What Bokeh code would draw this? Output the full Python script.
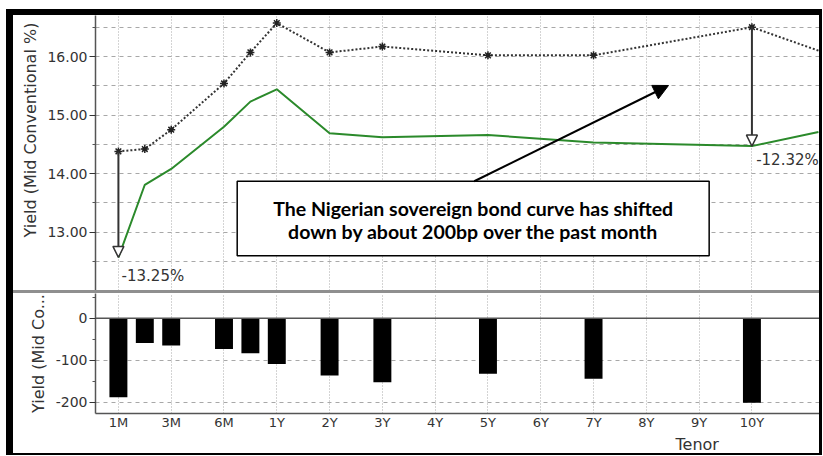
import math
from bokeh.plotting import figure
from bokeh.models import (FixedTicker, Label, Arrow, NormalHead, BoxAnnotation,
                          Span, Div, PrintfTickFormatter, Range1d, Title)
from bokeh.layouts import column, row
from bokeh.embed import file_html
from bokeh.resources import INLINE

# ---- data ----
tick_labels = ["1M", "3M", "6M", "1Y", "2Y", "3Y", "4Y", "5Y", "6Y", "7Y", "8Y", "9Y", "10Y"]
tick_pos = [0, 1, 2, 3, 4, 5, 6, 7, 8, 9, 10, 11, 12]

curve_tenors = ["1M", "2M", "3M", "6M", "9M", "1Y", "2Y", "3Y", "5Y", "7Y", "10Y", "edge"]
curve_pos = [0, 0.5, 1, 2, 2.5, 3, 4, 5, 7, 9, 12, 13.26]
yield_month_ago = [14.38, 14.42, 14.75, 15.54, 16.07, 16.57, 16.07, 16.17, 16.02, 16.02, 16.50, 16.10]
yield_now = [12.57, 13.81, 14.08, 14.80, 15.23, 15.44, 14.69, 14.62, 14.66, 14.53, 14.47, 14.71]

bar_tenors = ["1M", "2M", "3M", "6M", "9M", "1Y", "2Y", "3Y", "5Y", "7Y", "10Y"]
bar_pos = [0, 0.5, 1, 2, 2.5, 3, 4, 5, 7, 9, 12]
change_bp = [-188, -59, -65, -73, -83, -109, -136, -152, -132, -144, -201]

top_ticks = [13, 14, 15, 16]
top_minor = [12.5, 13.5, 14.5, 15.5, 16.5]
top_grid = [12.5, 13, 13.5, 14, 14.5, 15, 15.5, 16, 16.5]
bot_ticks = [0, -100, -200]
bot_minor = [50, -50, -150]
bot_grid = [-100, -200]

FONT = "DejaVu Sans"
TXT = "#333333"
AX = "#555555"
GRID = "#a8a8a8"
XR = (-0.434, 13.28)
W = 806


def set_standoff(t, v):
    try:
        t.standoff = v
    except Exception:
        pass
    return t


# ---- top panel ----
top = figure(width=W, height=275, x_range=Range1d(*XR), y_range=Range1d(12.005, 16.70),
             output_backend="svg", toolbar_location=None,
             min_border_left=79, min_border_right=0, min_border_top=0, min_border_bottom=0)
top.outline_line_color = None
top.xaxis.visible = False
top.xgrid.ticker = FixedTicker(ticks=tick_pos)
top.xgrid.grid_line_color = GRID
top.xgrid.grid_line_dash = "1 2"
top.ygrid.ticker = FixedTicker(ticks=top_grid)
top.ygrid.grid_line_color = GRID
top.ygrid.grid_line_dash = "4 4"

ya = top.yaxis[0]
ya.ticker = FixedTicker(ticks=top_ticks, minor_ticks=top_minor)
ya.formatter = PrintfTickFormatter(format="%.2f")
ya.major_label_text_font = FONT
ya.major_label_text_font_size = "14px"
ya.major_label_text_color = TXT
ya.axis_line_color = AX
ya.axis_line_width = 1.5
ya.major_tick_out = 6
ya.major_tick_in = 0
ya.major_tick_line_color = "#333333"
ya.minor_tick_out = 3
ya.minor_tick_in = 0
ya.minor_tick_line_color = AX
ya.major_label_standoff = 2

top.line(curve_pos, yield_month_ago, line_color="#333333", line_width=2, line_dash="2 2")
top.scatter(curve_pos[:-1], yield_month_ago[:-1], marker="asterisk", size=8,
            line_color="#222222", line_width=1.5)
top.line(curve_pos, yield_now, line_color="#2b8a2b", line_width=2)

# vertical change arrows (1M and 10Y)
for idx in (0, 10):
    top.add_layout(Arrow(x_start=curve_pos[idx], y_start=yield_month_ago[idx],
                         x_end=curve_pos[idx], y_end=yield_now[idx],
                         line_color="#333333", line_width=2,
                         end=NormalHead(size=11, fill_color="white", line_color="#333333",
                                        line_width=1.5)))

top.add_layout(Label(x=0.06, y=12.26, text="-13.25%", text_font=FONT, text_font_size="15px",
                     text_color=TXT, text_align="left", text_baseline="middle"))
top.add_layout(Label(x=12.08, y=14.225, text="-12.32%", text_font=FONT, text_font_size="15px",
                     text_color=TXT, text_align="left", text_baseline="middle"))

# comment box
top.add_layout(BoxAnnotation(left=2.25, right=11.19, top=13.87, bottom=12.60,
                             fill_color="white", fill_alpha=1.0,
                             line_color="black", line_width=1.5, line_alpha=1.0))
top.add_layout(Label(x=6.72, y=13.406, text="The Nigerian sovereign bond curve has shifted",
                     text_font="Lato", text_font_style="bold", text_font_size="19.5px",
                     text_color="black", text_align="center", text_baseline="middle"))
top.add_layout(Label(x=6.72, y=13.01, text="down by about 200bp over the past month",
                     text_font="Lato", text_font_style="bold", text_font_size="19.5px",
                     text_color="black", text_align="center", text_baseline="middle"))
top.add_layout(Arrow(x_start=6.74, y_start=13.87, x_end=10.42, y_end=15.505,
                     line_color="black", line_width=2,
                     end=NormalHead(size=15, fill_color="black", line_color="black")))

top.add_layout(Title(text="Yield (Mid Conventional %)", align="left", offset=53,
                     text_font=FONT, text_font_size="16px", text_color=TXT,
                     text_font_style="normal"), "left")

# ---- separator ----
sep = Div(text="", width=W, height=3, margin=0, styles={"background-color": "#8f8f8f"})

# ---- bottom panel ----
bot = figure(width=W, height=160, x_range=Range1d(*XR), y_range=Range1d(-226.4, 58.7),
             output_backend="svg", toolbar_location=None,
             min_border_left=79, min_border_right=0, min_border_top=0, min_border_bottom=38)
bot.outline_line_color = None
bot.xgrid.ticker = FixedTicker(ticks=tick_pos)
bot.xgrid.grid_line_color = GRID
bot.xgrid.grid_line_dash = "1 2"
bot.ygrid.ticker = FixedTicker(ticks=bot_grid)
bot.ygrid.grid_line_color = GRID
bot.ygrid.grid_line_dash = "4 4"

xa = bot.xaxis[0]
xa.ticker = FixedTicker(ticks=tick_pos)
xa.major_label_overrides = {p: l for p, l in zip(tick_pos, tick_labels)}
xa.major_label_text_font = FONT
xa.major_label_text_font_size = "13px"
xa.major_label_text_color = TXT
xa.axis_line_color = AX
xa.axis_line_width = 1.5
xa.major_tick_out = 0
xa.major_tick_in = 0
xa.minor_tick_out = 0
xa.minor_tick_in = 0
xa.major_label_standoff = 1

yb = bot.yaxis[0]
yb.ticker = FixedTicker(ticks=bot_ticks, minor_ticks=bot_minor)
yb.formatter = PrintfTickFormatter(format="%d")
yb.major_label_text_font = FONT
yb.major_label_text_font_size = "14px"
yb.major_label_text_color = TXT
yb.axis_line_color = AX
yb.axis_line_width = 1.5
yb.major_tick_out = 6
yb.major_tick_in = 0
yb.major_tick_line_color = "#333333"
yb.minor_tick_out = 3
yb.minor_tick_in = 0
yb.minor_tick_line_color = AX
yb.major_label_standoff = 2

bot.add_layout(Span(location=0, dimension="width", line_color=AX, line_width=1.5))
bot.vbar(x=bar_pos, width=0.34, top=0, bottom=change_bp, fill_color="black", line_color=None)

bot.add_layout(Title(text="Yield (Mid Co...", align="center",
                     text_font=FONT, text_font_size="16px", text_color=TXT,
                     text_font_style="normal"), "left")
bot.add_layout(set_standoff(Title(text="Tenor", align="left", offset=580,
                                  text_font=FONT, text_font_size="16px", text_color=TXT,
                                  text_font_style="normal"), 0), "below")


def band(w, h):
    return Div(text="", width=w, height=h, margin=0, styles={"background-color": "black"})


H_IN = 6 + 275 + 3 + 160 + 2
inner = column(band(W, 6), top, sep, bot, band(W, 2), spacing=0, margin=0)
layout = row(band(7, H_IN), inner, band(3, H_IN), spacing=0)
layout.margin = (9, 0, 0, 6)

open("out.html", "w").write(file_html(layout, INLINE))
